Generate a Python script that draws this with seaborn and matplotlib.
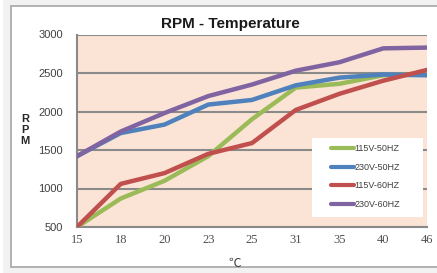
import matplotlib
matplotlib.use("Agg")
import matplotlib.pyplot as plt
from matplotlib.patches import Rectangle
import seaborn as sns
import pandas as pd

temps = ["15", "18", "20", "23", "25", "31", "35", "40", "46"]
v115_50 = [500, 870, 1100, 1420, 1900, 2310, 2360, 2470, 2480]
v230_50 = [1420, 1720, 1830, 2090, 2150, 2340, 2440, 2480, 2470]
v115_60 = [500, 1060, 1200, 1450, 1590, 2020, 2230, 2400, 2540]
v230_60 = [1420, 1740, 1980, 2200, 2350, 2530, 2640, 2820, 2830]
names = ["115V-50HZ", "230V-50HZ", "115V-60HZ", "230V-60HZ"]
colors = ["#9BBB59", "#4F81BD", "#C0504D", "#8064A2"]

rows = []
for name, vals in zip(names, [v115_50, v230_50, v115_60, v230_60]):
    for t, v in zip(temps, vals):
        rows.append({"temp": t, "rpm": v, "series": name})
df = pd.DataFrame(rows)

sns.set_style("white")
plt.rcParams["font.family"] = ["Liberation Sans", "DejaVu Sans"]

fig = plt.figure(figsize=(4.37, 2.73), dpi=100)
fig.patch.set_facecolor("#f2f2f2")
# outer chart frame
fig.patches.append(Rectangle((11 / 437, 6 / 273), 440 / 437, 261 / 273, transform=fig.transFigure,
                             facecolor="white", edgecolor="#a6a6a6", lw=1.2, zorder=-10))
fig.patches.append(Rectangle((0, 0), 2.5 / 437, 1, transform=fig.transFigure,
                             facecolor="white", edgecolor="none", zorder=-10))

ax = fig.add_axes([77 / 437, 46 / 273, 350 / 437, 192.5 / 273])
ax.set_facecolor("#FBE4D5")

sns.lineplot(data=df, x="temp", y="rpm", hue="series", palette=colors, hue_order=names,
             linewidth=3.2, sort=False, ax=ax, zorder=3)

ax.set_xlim(0, 8)
ax.set_ylim(500, 3000)
ax.set_yticks([500, 1000, 1500, 2000, 2500, 3000])
ax.yaxis.grid(True, color="#8a8a8a", lw=1.5)
ax.set_axisbelow(True)
for s in ["top", "right"]:
    ax.spines[s].set_visible(False)
for s in ["left", "bottom"]:
    ax.spines[s].set_color("#8a8a8a")
    ax.spines[s].set_linewidth(1.5)

ax.tick_params(axis="y", length=3, width=1, color="#8a8a8a", pad=7, labelsize=8, labelcolor="#404040")
ax.tick_params(axis="x", length=0, pad=5, labelsize=9, labelcolor="#505050")
for lab in ax.get_xticklabels():
    lab.set_family("Liberation Serif")

ax.set_title("RPM - Temperature", fontsize=11, fontweight="bold", pad=5, color="#1a1a1a", x=0.437)
ax.set_ylabel("R\nP\nM", rotation=0, fontsize=8, fontweight="bold", linespacing=1.1, color="#262626",
              va="center")
ax.yaxis.set_label_coords(-0.148, 0.505)
ax.set_xlabel("℃", fontsize=9, color="#404040", family=["Noto Sans CJK SC", "DejaVu Sans"])
ax.xaxis.set_label_coords(0.451, -0.155)

# white legend box
ax.add_patch(Rectangle((0.671, 0.052), 0.318, 0.41, transform=ax.transAxes,
                       facecolor="white", edgecolor="none", zorder=4))
leg = ax.legend(loc="center", bbox_to_anchor=(0.824, 0.262), frameon=False, fontsize=6.5,
                handlelength=2.6, handletextpad=0.05, labelspacing=1.08)
leg.set_zorder(5)
for t in leg.get_texts():
    t.set_color("#404040")
for h in leg.get_lines():
    h.set_linewidth(3)

fig.savefig("out.png", dpi=100)
